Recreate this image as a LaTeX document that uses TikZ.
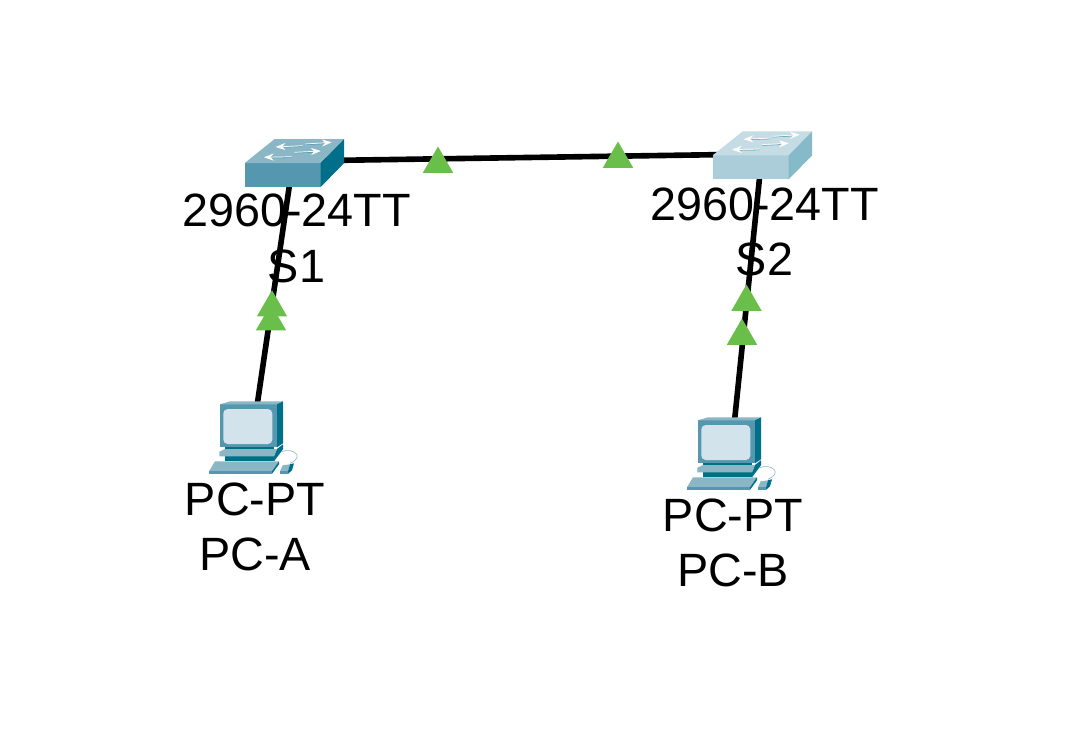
\documentclass[tikz,border=0pt]{standalone}
\usepackage{fontspec}
\setmainfont{Liberation Sans}
\usetikzlibrary{shapes.geometric,arrows.meta}
\definecolor{linkgreen}{HTML}{6ABF4B}
\definecolor{darkfront}{HTML}{5597AE}
\definecolor{darktop}{HTML}{8AB6C6}
\definecolor{darkside}{HTML}{006F8A}
\definecolor{lightfront}{HTML}{ABCDD9}
\definecolor{lighttop}{HTML}{C5DCE4}
\definecolor{lightside}{HTML}{86BAC8}
\definecolor{pcscreen}{HTML}{D3E3EB}
\tikzset{
  link/.style={line width=3.2pt},
  linkup/.style={regular polygon,regular polygon sides=3,fill=linkgreen,inner sep=0pt,outer sep=0pt,minimum size=0.7cm},
  devlabel/.style={align=center,font=\fontsize{26.6}{31.5}\selectfont},
  flow/.style={white,line width=0.4pt,-{Stealth[length=5.5pt,width=4pt]}},
  pics/switchbox/.style n args={3}{code={
    \fill[#1] (0,0) -- (76,0) -- (76,24) -- (0,24) -- cycle;
    \fill[#2] (0,0) -- (30,-24) -- (99.5,-24) -- (76,0) -- cycle;
    \fill[#3] (76,0) -- (99.5,-24) -- (99.5,0) -- (76,24) -- cycle;
    \draw[darkside!70,line width=0.3pt] (36,-15.7) -- (58,-16.4) (60,-18.2) -- (82,-19.4) (25,-5) -- (47,-5.4) (50,-9.9) -- (71,-10.8);
    \draw[flow] (58,-17.3) -- (31,-16);
    \draw[flow] (60.3,-19) -- (87,-20.7);
    \draw[flow] (47,-6.3) -- (19.3,-5.7);
    \draw[flow] (49.7,-10.7) -- (76,-12);
  }},
  pics/pcbox/.style={code={
    % monitor
    \fill[darkfront] (0,0) rectangle (57,43);
    \fill[darktop] (0,0) -- (10,-3) -- (63,-3) -- (57,0) -- cycle;
    \fill[darkside] (57,0) -- (63,-3) -- (63,39) -- (57,43) -- cycle;
    \fill[pcscreen,rounded corners=2.5pt] (3.3,4.7) rectangle (52.3,39.7);
    % stand
    \fill[darkside] (5,43) rectangle (54,57);
    \fill[darkside] (54,52) -- (57,44.7) -- (63,40) -- (63,45) -- (54,57) -- cycle;
    \fill[darktop] (-0.7,47.5) -- (5,44.7) -- (57,44.7) -- (54,52) -- (-0.7,52) -- cycle;
    % keyboard
    \fill[darktop] (-5,57) -- (59,57) -- (52,67) -- (-11,67) -- cycle;
    \fill[darkfront] (-11,67) rectangle (52,69.5);
    \fill[darkside] (59,57) -- (59,60) -- (52,69.5) -- (52,67) -- cycle;
    % mouse
    \fill[darktop] (62.7,61) -- (70,60) -- (68,67) -- (60,67) -- cycle;
    \fill[darkfront] (60,67) rectangle (68,69.5);
    \fill[darkside] (70,60) -- (74,59) -- (72,66) -- (68,69.5) -- (68,67) -- cycle;
    \draw[darktop,line width=0.35pt] (61.7,47.3) .. controls (72,43) and (86,52) .. (70,59);
  }},
}
\begin{document}
\begin{tikzpicture}[x=0.02cm,y=-0.02cm]
\useasboundingbox (0,0) rectangle (1086,751);
% device centres
\coordinate (s1) at (293,161);
\coordinate (s2) at (762,154);
\coordinate (pca) at (252,440);
\coordinate (pcb) at (731,455);
% links
\draw [link] (s1) -- (s2);
\draw [link] (pca) -- (s1);
\draw [link] (pcb) -- (s2);
% devices
\pic at (244.7,163) {switchbox={darkfront}{darktop}{darkside}};
\pic at (712.7,155.3) {switchbox={lightfront}{lighttop}{lightside}};
\pic at (220,404.3) {pcbox};
\pic at (698,420.3) {pcbox};
% link lights
\foreach \name/\x/\y in {ua/438/164,ub/618/159,uc/272/307.7,ud/271/321.6,ue/746.5/302,uf/742/336}
{
\node [linkup] (\name) at (\x,\y) {};
}
% labels
\node [devlabel] (s1label) at (296.5,238.5) {2960-24TT\\S1};
\node [devlabel] (s2label) at (764.5,232) {2960-24TT\\S2};
\node [devlabel] (pcalabel) at (255,527) {PC-PT\\PC-A};
\node [devlabel] (pcblabel) at (733,543) {PC-PT\\PC-B};
\end{tikzpicture}
\end{document}
